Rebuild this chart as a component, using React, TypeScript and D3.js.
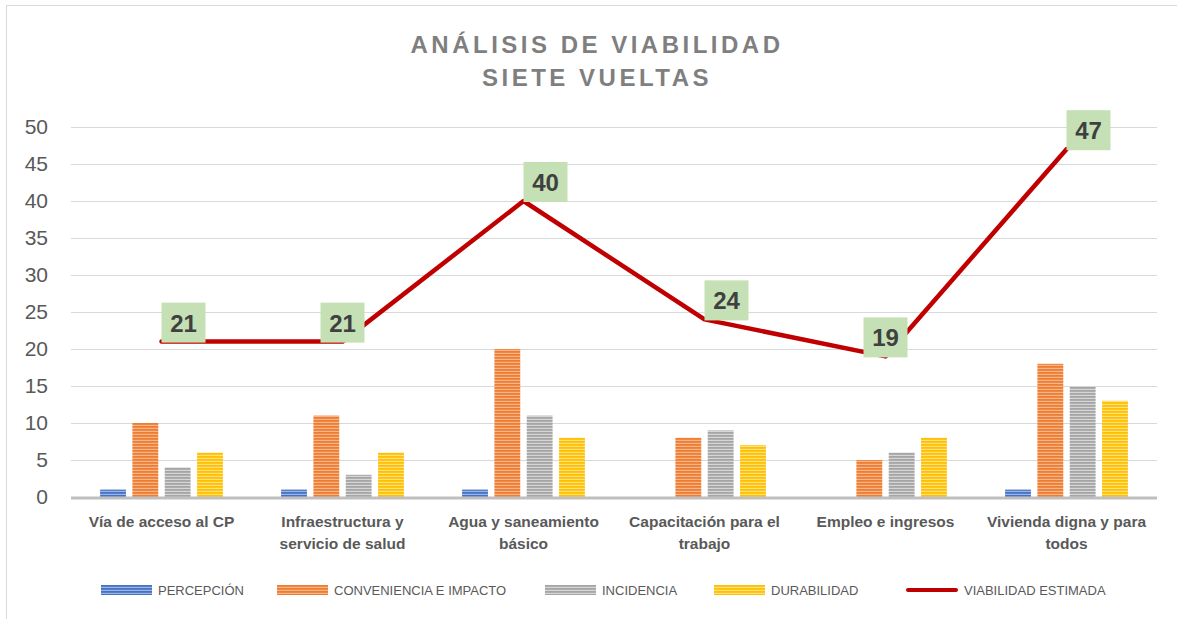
import React, { useRef, useEffect } from "react";
import { select, scaleBand, scaleLinear, axisLeft, line } from "d3";

// datos del gráfico
const categorias = [
  ["Vía de acceso al CP"],
  ["Infraestructura y", "servicio de salud"],
  ["Agua y saneamiento", "básico"],
  ["Capacitación para el", "trabajo"],
  ["Empleo e ingresos"],
  ["Vivienda digna y para", "todos"],
];
const percepcion = [1, 1, 1, 0, 0, 1];
const conveniencia = [10, 11, 20, 8, 5, 18];
const incidencia = [4, 3, 11, 9, 6, 15];
const durabilidad = [6, 6, 8, 7, 8, 13];
const viabilidad = [21, 21, 40, 24, 19, 47];
const yTicks = [0, 5, 10, 15, 20, 25, 30, 35, 40, 45, 50];

const series = [
  { key: "per", name: "PERCEPCIÓN", values: percepcion, dark: "#4472c4", light: "#9db5e0" },
  { key: "con", name: "CONVENIENCIA E IMPACTO", values: conveniencia, dark: "#ed7d31", light: "#f6b58a" },
  { key: "inc", name: "INCIDENCIA", values: incidencia, dark: "#a5a5a5", light: "#d6d6d6" },
  { key: "dur", name: "DURABILIDAD", values: durabilidad, dark: "#ffc000", light: "#ffe083" },
];
// donde cae la etiqueta respecto al punto
const labelAnchor = ["right", "center", "right", "right", "center", "right"];
const legendX = [101, 277, 545, 714, 906];

const W = 1177;
const H = 619;
const left = 71;
const right = 1157;
const top = 127;
const bottom = 497;

const App = () => {
  const axisRef = useRef<SVGGElement>(null);

  const x0 = scaleBand<number>()
    .domain(categorias.map((d, i) => i))
    .range([left, right])
    .paddingInner(0.25)
    .paddingOuter(0.125);
  const x1 = scaleBand<string>()
    .domain(series.map((s) => s.key))
    .range([0, x0.bandwidth()])
    .padding(0.2);
  const y = scaleLinear().domain([0, 50]).range([bottom, top]);
  const cx = (i: number) => (x0(i) as number) + x0.bandwidth() / 2;

  useEffect(() => {
    const g = select(axisRef.current);
    g.call(
      axisLeft(y)
        .tickValues(yTicks)
        .tickSize(-(right - left))
        .tickPadding(23)
    );
    g.select(".domain").remove();
    g.selectAll(".tick line").attr("stroke", "#d9d9d9").attr("stroke-width", 1);
    g.selectAll(".tick text")
      .attr("fill", "#595959")
      .style("font-size", "21px")
      .style("font-family", "Liberation Sans, Arial, sans-serif");
  }, []);

  const path = line<number>()
    .x((d, i) => cx(i))
    .y((d) => y(d))(viabilidad);

  return (
    <svg width={W} height={H} style={{ position: "absolute", left: 0, top: 0, background: "#fff" }}>
      <defs>
        {series.map((s) => (
          <pattern key={s.key} id={"st-" + s.key} width={6} height={3} patternUnits="userSpaceOnUse">
            <rect width={6} height={3} fill={s.light} />
            <rect width={6} height={1.8} fill={s.dark} />
          </pattern>
        ))}
      </defs>
      <rect x={6.5} y={5.5} width={1300} height={800} fill="none" stroke="#d9d9d9" />

      <g fontFamily="Liberation Sans, Arial, sans-serif" fontWeight="bold" fill="#7f7f7f" fontSize={24} textAnchor="middle" letterSpacing={3.5}>
        <text x={597} y={53}>ANÁLISIS DE VIABILIDAD</text>
        <text x={597} y={86}>SIETE VUELTAS</text>
      </g>

      <g ref={axisRef} transform={`translate(${left},0)`} />

      {series.map((s) => (
        <g key={s.key}>
          {s.values.map((v, i) =>
            v > 0 ? (
              <rect
                key={i}
                x={(x0(i) as number) + (x1(s.key) as number)}
                y={y(v)}
                width={x1.bandwidth()}
                height={y(0) - y(v)}
                fill={`url(#st-${s.key})`}
              />
            ) : null
          )}
        </g>
      ))}

      <line x1={left} x2={right} y1={bottom + 1} y2={bottom + 1} stroke="#bfbfbf" strokeWidth={3} />

      <path d={path || ""} fill="none" stroke="#c00000" strokeWidth={4.5} strokeLinecap="round" strokeLinejoin="round" />

      {viabilidad.map((v, i) => {
        const bw = 44;
        const bh = 40;
        const bx = labelAnchor[i] === "right" ? cx(i) : cx(i) - bw / 2;
        const by = y(v) - bh + 1;
        return (
          <g key={i}>
            <rect x={bx} y={by} width={bw} height={bh} fill="#c5e0b4" />
            <text
              x={bx + bw / 2}
              y={by + bh / 2 + 9}
              textAnchor="middle"
              fontFamily="Liberation Sans, Arial, sans-serif"
              fontWeight="bold"
              fontSize={24}
              fill="#404040"
            >
              {v}
            </text>
          </g>
        );
      })}

      <g fontFamily="Liberation Sans, Arial, sans-serif" fontWeight="bold" fontSize={15.5} fill="#595959" textAnchor="middle">
        {categorias.map((lines, i) => (
          <text key={i} x={cx(i)} y={527}>
            {lines.map((t, j) => (
              <tspan key={j} x={cx(i)} dy={j === 0 ? 0 : 22}>
                {t}
              </tspan>
            ))}
          </text>
        ))}
      </g>

      <g fontFamily="Liberation Sans, Arial, sans-serif" fontSize={13} fill="#595959">
        {series.map((s, i) => (
          <g key={s.key} transform={`translate(${legendX[i]},585)`}>
            <rect width={51} height={10} fill={`url(#st-${s.key})`} />
            <text x={57} y={10}>{s.name}</text>
          </g>
        ))}
        <g transform={`translate(${legendX[4]},585)`}>
          <line x1={2} x2={50} y1={5} y2={5} stroke="#c00000" strokeWidth={4} strokeLinecap="round" />
          <text x={58} y={10}>VIABILIDAD ESTIMADA</text>
        </g>
      </g>
    </svg>
  );
};

export default App;
